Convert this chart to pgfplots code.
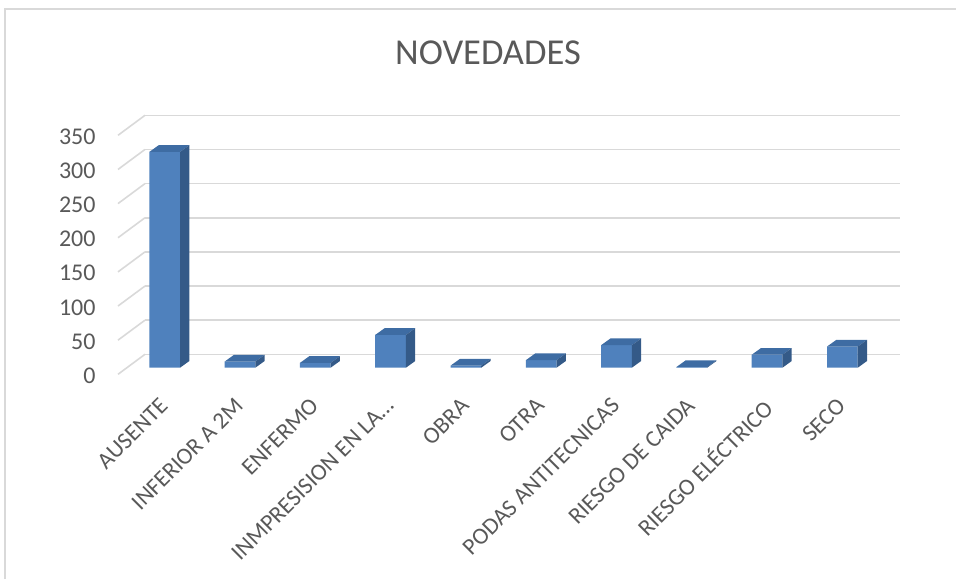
\documentclass[border=0pt]{standalone}
\usepackage{pgfplots}
\usepackage{pgfplotstable}
\pgfplotsset{compat=1.18}
\usepackage{fontspec}
\setmainfont{Carlito}
\definecolor{frontc}{HTML}{4F81BD}
\definecolor{topc}{HTML}{3E6CA3}
\definecolor{sidec}{HTML}{345A88}
\definecolor{gridc}{HTML}{D9D9D9}
\definecolor{txt}{HTML}{595959}
\definecolor{borderc}{HTML}{D9D9D9}
\pgfdeclareplotmark{prism}{%
  \pgfmathsetmacro\hh{\val*0.682857}%
  \pgfmathsetmacro\hb{6.7-\hh}%
  \pgfpathmoveto{\pgfpoint{-15.35pt}{0pt}}%
  \pgfpathlineto{\pgfpoint{15.35pt}{0pt}}%
  \pgfpathlineto{\pgfpoint{24.65pt}{6.7pt}}%
  \pgfpathlineto{\pgfpoint{-6.05pt}{6.7pt}}%
  \pgfpathclose
  \pgfsetfillcolor{topc}\pgfusepath{fill}%
  \pgfpathmoveto{\pgfpoint{15.35pt}{0pt}}%
  \pgfpathlineto{\pgfpoint{24.65pt}{6.7pt}}%
  \pgfpathlineto{\pgfpoint{24.65pt}{\hb pt}}%
  \pgfpathlineto{\pgfpoint{15.35pt}{-\hh pt}}%
  \pgfpathclose
  \pgfsetfillcolor{sidec}\pgfusepath{fill}%
}
\pgfplotstableread{
x v
0 316
1 9
2 7
3 48
4 3
5 11
6 33
7 1
8 19
9 31
}\novedades
\begin{document}
\begin{tikzpicture}[x=1pt,y=1pt]
\path[use as bounding box] (0,0) rectangle (956,579);
\draw[borderc, line width=1.2pt] (5,0) -- (5,570) -- (956,570);
\node[anchor=base, text=txt, font=\fontsize{36.5}{40}\selectfont, inner sep=0pt] at (488,514) {NOVEDADES};
\begin{axis}[
  scale only axis, width=755pt, height=239pt,
  at={(145pt,224.7pt)}, anchor=south west,
  xmin=-0.2616, xmax=9.765, ymin=0, ymax=350,
  clip=false,
  axis line style={draw=none},
  major tick length=0pt,
  ytick={0,50,...,350},
  ymajorgrids, grid style={gridc, line width=1.6pt},
  xtick={0,...,9},
  xticklabels={AUSENTE, INFERIOR A 2M, ENFERMO, INMPRESISION EN LA…, OBRA, OTRA, PODAS ANTITECNICAS, RIESGO DE CAIDA, RIESGO ELÉCTRICO, SECO},
  /pgf/number format/assume math mode=true,
  tick label style={text=txt, inner sep=0pt},
  yticklabel style={font=\fontsize{24}{28}\selectfont, anchor=east, xshift=-49.3pt, yshift=-21.4pt},
  xticklabel style={font=\fontsize{23.5}{28}\selectfont, anchor=north east, xshift=-6.5pt, yshift=-42pt, rotate=45},
]
\pgfplotsinvokeforeach{0,50,100,150,200,250,300,350}{
  \draw[gridc, line width=1.6pt] (axis cs:-0.2616,#1) -- ++(-27pt,-20pt);
}
\addplot[ybar, bar width=30.7pt, bar shift=0pt, fill=frontc, draw=none, yshift=-13.4pt] table[x=x,y=v]{\novedades};
\addplot[only marks, mark=prism, yshift=-13.4pt, visualization depends on={rawy\as\val}] table[x=x,y=v]{\novedades};
\end{axis}
\end{tikzpicture}
\end{document}
